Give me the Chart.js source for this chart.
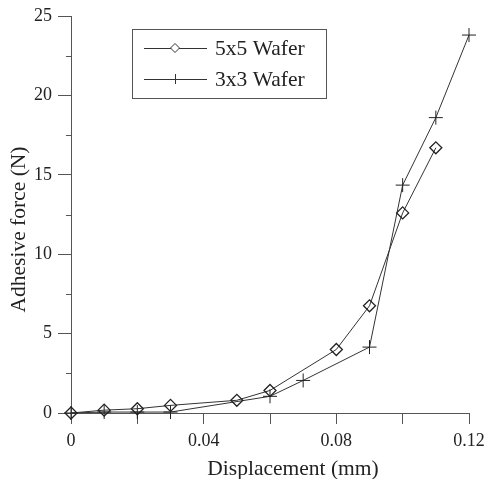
<!DOCTYPE html>
<html>
<head>
<meta charset="utf-8">
<script src="https://cdn.jsdelivr.net/npm/chart.js@4/dist/chart.umd.min.js"></script>
<style>
  body { margin: 0; background: #fff; }
  #wrap { width: 488px; height: 479px; }
</style>
</head>
<body>
<div id="wrap"><canvas id="forceChart" width="488" height="479"></canvas></div>
<script>
// displacement (mm) and adhesive force (N)
const disp5 = [0, 0.01, 0.02, 0.03, 0.05, 0.06, 0.08, 0.09, 0.10, 0.11];
const force5 = [0, 0.18, 0.27, 0.48, 0.8, 1.42, 4.0, 6.75, 12.6, 16.7];
const disp3 = [0, 0.01, 0.02, 0.03, 0.06, 0.07, 0.09, 0.10, 0.11, 0.12];
const force3 = [0, 0.06, 0.06, 0.06, 1.05, 2.05, 4.15, 14.35, 18.6, 23.8];

const seriesNames = ['5x5 Wafer', '3x3 Wafer'];
const xMajorLabels = ['0', '0.04', '0.08', '0.12'];
const yMinorTicks = [2.5, 7.5, 12.5, 17.5, 22.5];
const xTitle = 'Displacement (mm)';
const yTitle = 'Adhesive force (N)';

const serif = '"Liberation Serif", "Times New Roman", serif';
const axisColor = '#555';
const lineColor = '#333';
const textColor = '#222';

const toPoints = (xs, ys) => xs.map((x, i) => ({ x: x, y: ys[i] }));

// minor y ticks, the boxed legend and the axis titles
const decor = {
    id: 'decor',
    afterDraw(chart) {
        const { ctx, chartArea, scales: { y } } = chart;
        ctx.save();
        ctx.strokeStyle = axisColor;
        ctx.lineWidth = 1;
        yMinorTicks.forEach(v => {
            const py = Math.round(y.getPixelForValue(v)) + 0.5;
            ctx.beginPath();
            ctx.moveTo(chartArea.left - 5, py);
            ctx.lineTo(chartArea.left, py);
            ctx.stroke();
        });

        ctx.fillStyle = textColor;
        ctx.font = '21.5px ' + serif;
        ctx.textAlign = 'center';
        ctx.textBaseline = 'alphabetic';
        ctx.fillText(xTitle, (chartArea.left + chartArea.right) / 2 + 23, 475);
        ctx.save();
        ctx.translate(25, (chartArea.top + chartArea.bottom) / 2 + 15);
        ctx.rotate(-Math.PI / 2);
        ctx.fillText(yTitle, 0, 0);
        ctx.restore();

        // legend box
        ctx.strokeStyle = axisColor;
        ctx.strokeRect(132.5, 29.5, 194, 69);
        const rows = [48, 79];
        ctx.font = '21.5px ' + serif;
        ctx.textAlign = 'left';
        ctx.textBaseline = 'middle';
        rows.forEach((ry, i) => {
            ctx.strokeStyle = lineColor;
            ctx.beginPath();
            ctx.moveTo(144, ry + 0.5);
            ctx.lineTo(207, ry + 0.5);
            ctx.stroke();
            ctx.beginPath();
            if (i === 0) {
                ctx.fillStyle = '#fff';
                ctx.moveTo(175, ry - 4.5);
                ctx.lineTo(179.5, ry);
                ctx.lineTo(175, ry + 4.5);
                ctx.lineTo(170.5, ry);
                ctx.closePath();
                ctx.fill();
                ctx.stroke();
            } else {
                ctx.moveTo(175.5, ry - 5);
                ctx.lineTo(175.5, ry + 5);
                ctx.stroke();
            }
            ctx.fillStyle = textColor;
            ctx.fillText(seriesNames[i], 215, ry + 1);
        });
        ctx.restore();
    }
};

new Chart(document.getElementById('forceChart'), {
    type: 'scatter',
    data: {
        datasets: [{
            label: seriesNames[0],
            data: toPoints(disp5, force5),
            showLine: true,
            borderColor: lineColor,
            borderWidth: 1,
            pointStyle: 'rectRot',
            pointRadius: 6,
            pointBorderWidth: 1.3,
            pointBorderColor: '#222',
            pointBackgroundColor: 'rgba(0,0,0,0)',
            clip: false
        }, {
            label: seriesNames[1],
            data: toPoints(disp3, force3),
            showLine: true,
            borderColor: lineColor,
            borderWidth: 1,
            pointStyle: 'cross',
            pointRadius: 7,
            pointBorderWidth: 1,
            pointBorderColor: '#222',
            clip: false
        }]
    },
    options: {
        responsive: false,
        animation: false,
        events: [],
        layout: { padding: { top: 16, right: 19, left: 0, bottom: 0 } },
        plugins: {
            legend: { display: false },
            tooltip: { enabled: false }
        },
        scales: {
            x: {
                type: 'linear',
                min: 0,
                max: 0.12,
                afterFit: s => {
                    s.height = 66;
                    s.paddingLeft = 0;
                    s.paddingRight = 0;
                },
                ticks: {
                    stepSize: 0.02,
                    padding: 6,
                    color: textColor,
                    font: { family: serif, size: 18 },
                    maxRotation: 0,
                    autoSkip: false,
                    callback: v => {
                        const k = Math.round(v * 100);
                        return k % 4 === 0 ? xMajorLabels[k / 4] : '';
                    }
                },
                grid: { drawOnChartArea: false, tickLength: 11, tickColor: axisColor },
                border: { color: axisColor }
            },
            y: {
                min: 0,
                max: 25,
                afterFit: s => {
                    s.width = 71;
                    s.paddingTop = 0;
                    s.paddingBottom = 0;
                },
                ticks: {
                    stepSize: 5,
                    padding: 6,
                    color: textColor,
                    font: { family: serif, size: 18 }
                },
                grid: { drawOnChartArea: false, tickLength: 13, tickColor: axisColor },
                border: { color: axisColor }
            }
        }
    },
    plugins: [decor]
});
</script>
</body>
</html>
